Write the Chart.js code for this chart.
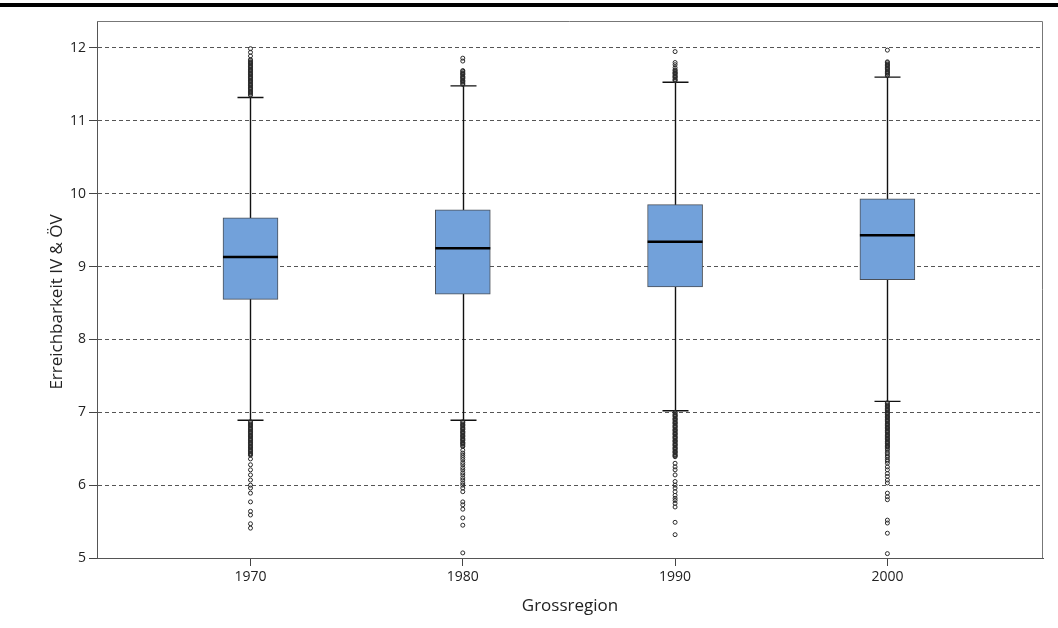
<!DOCTYPE html>
<html>
<head>
<meta charset="utf-8">
<title>Erreichbarkeit IV & ÖV nach Grossregion</title>
<script src="https://cdn.jsdelivr.net/npm/chart.js@4/dist/chart.umd.min.js"></script>
<style>
  body { margin: 0; background: #fff; }
  #wrap { position: relative; width: 1058px; height: 628px; }
  #topRule { position: absolute; left: 0; top: 3px; width: 1058px; height: 4px; background: #000; }
</style>
</head>
<body>
<div id="wrap">
  <div id="topRule"></div>
  <canvas id="boxChart" width="1058" height="628"></canvas>
</div>
<script>
'use strict';

// Box statistics per year
let years = [1970, 1980, 1990, 2000];
let lowerWhisker = [6.89, 6.89, 7.02, 7.15];
let q1 = [8.55, 8.62, 8.72, 8.82];
let median = [9.13, 9.25, 9.34, 9.43];
let q3 = [9.67, 9.78, 9.85, 9.93];
let upperWhisker = [11.32, 11.48, 11.53, 11.60];
let yTicks = [5, 6, 7, 8, 9, 10, 11, 12];
let yTitle = 'Erreichbarkeit IV & ÖV';

// Outliers per year (above and below the whiskers)
let out1970 = [
  11.99, 11.94, 11.89,
  11.84, 11.83, 11.81, 11.80, 11.79, 11.78, 11.76, 11.75, 11.74, 11.73, 11.71, 11.70,
  11.69, 11.68, 11.66, 11.65, 11.64, 11.63, 11.61, 11.60, 11.59, 11.58, 11.56, 11.55,
  11.54, 11.53, 11.51, 11.50, 11.49, 11.48, 11.46, 11.45, 11.44, 11.43, 11.41, 11.40,
  11.39, 11.38, 11.36, 11.35,
  6.87, 6.86, 6.84, 6.83, 6.82, 6.81, 6.79, 6.78, 6.77, 6.76, 6.74, 6.73, 6.72, 6.71,
  6.69, 6.68, 6.67, 6.66, 6.64, 6.63, 6.62, 6.61, 6.59, 6.58, 6.57, 6.56, 6.54, 6.53,
  6.52, 6.51, 6.49, 6.48, 6.47, 6.46, 6.44, 6.43, 6.42, 6.41,
  6.36, 6.28, 6.21, 6.14, 6.07, 6.00, 5.96, 5.89, 5.77, 5.64, 5.59, 5.47, 5.41
];
let out1980 = [
  11.86, 11.82,
  11.69, 11.68, 11.66, 11.65, 11.64, 11.63, 11.61, 11.60, 11.59, 11.58, 11.56, 11.55,
  11.54, 11.53, 11.51, 11.50,
  6.87, 6.86, 6.84, 6.83, 6.82, 6.81, 6.79, 6.78, 6.77, 6.76, 6.74, 6.73, 6.72, 6.71,
  6.69, 6.68, 6.67, 6.66, 6.64, 6.63, 6.62, 6.61, 6.59, 6.58, 6.57, 6.56, 6.54, 6.53,
  6.48, 6.44, 6.41, 6.38, 6.35, 6.31, 6.28, 6.24, 6.21, 6.17, 6.14, 6.10, 6.07, 6.03,
  6.00, 5.96, 5.91, 5.77, 5.73, 5.67, 5.55, 5.45, 5.07
];
let out1990 = [
  11.95, 11.80, 11.77, 11.73,
  11.70, 11.69, 11.67, 11.66, 11.65, 11.64, 11.62, 11.61, 11.60, 11.59, 11.57, 11.56,
  11.55,
  7.00, 6.99, 6.97, 6.96, 6.95, 6.94, 6.92, 6.91, 6.90, 6.89, 6.87, 6.86, 6.85, 6.84,
  6.82, 6.81, 6.80, 6.79, 6.77, 6.76, 6.75, 6.74, 6.72, 6.71, 6.70, 6.69, 6.67, 6.66,
  6.65, 6.64, 6.62, 6.61, 6.60, 6.59, 6.57, 6.56, 6.55, 6.54, 6.52, 6.51, 6.50, 6.49,
  6.47, 6.46, 6.45, 6.44, 6.42, 6.41, 6.40, 6.39,
  6.30, 6.25, 6.21, 6.14, 6.05, 6.00, 5.96, 5.91, 5.86, 5.82, 5.79, 5.75, 5.70, 5.49,
  5.32
];
let out2000 = [
  11.97,
  11.81, 11.80, 11.78, 11.77, 11.76, 11.75, 11.73, 11.72, 11.71, 11.70, 11.68, 11.67,
  11.66, 11.65, 11.63, 11.62,
  7.13, 7.12, 7.10, 7.09, 7.08, 7.07, 7.05, 7.04, 7.03, 7.02, 7.00, 6.99, 6.98, 6.97,
  6.95, 6.94, 6.93, 6.92, 6.90, 6.89, 6.88, 6.87, 6.85, 6.84, 6.83, 6.82, 6.80, 6.79,
  6.78, 6.77, 6.75, 6.74, 6.73, 6.72, 6.70, 6.69, 6.68, 6.67, 6.65, 6.64, 6.63, 6.62,
  6.60, 6.59, 6.58, 6.57, 6.55, 6.54, 6.53, 6.52, 6.50,
  6.48, 6.45, 6.43, 6.40, 6.38, 6.35, 6.33, 6.30,
  6.25, 6.21, 6.16, 6.12, 6.07, 6.03, 5.89, 5.84, 5.80, 5.52, 5.48, 5.34, 5.06
];
let allOutliers = [out1970, out1980, out1990, out2000];

// build chart data
let boxData = [];
let outlierPoints = [];
for (let i = 0; i < years.length; i++) {
  boxData.push({ x: years[i], y: [q1[i], q3[i]] });
  allOutliers[i].forEach(v => outlierPoints.push({ x: years[i], y: v }));
}

const BOX_WIDTH = 55;
const CAP_WIDTH = 26;

// whiskers behind the boxes, median lines, plot frame and y title on top
const boxPlotLines = {
  id: 'boxPlotLines',
  beforeDatasetsDraw(chart) {
    let ctx = chart.ctx;
    let xs = chart.scales.x;
    let ys = chart.scales.y;
    ctx.save();
    ctx.strokeStyle = '#111';
    ctx.lineWidth = 1.4;
    for (let i = 0; i < years.length; i++) {
      let x = Math.round(xs.getPixelForValue(years[i])) + 0.5;
      let top = ys.getPixelForValue(upperWhisker[i]);
      let bottom = ys.getPixelForValue(lowerWhisker[i]);
      ctx.beginPath();
      ctx.moveTo(x, top);
      ctx.lineTo(x, bottom);
      ctx.moveTo(x - CAP_WIDTH / 2, top);
      ctx.lineTo(x + CAP_WIDTH / 2, top);
      ctx.moveTo(x - CAP_WIDTH / 2, bottom);
      ctx.lineTo(x + CAP_WIDTH / 2, bottom);
      ctx.stroke();
    }
    ctx.restore();
  },
  afterDatasetsDraw(chart) {
    let ctx = chart.ctx;
    let xs = chart.scales.x;
    let ys = chart.scales.y;
    ctx.save();
    ctx.strokeStyle = '#000';
    ctx.lineWidth = 2.5;
    for (let i = 0; i < years.length; i++) {
      let x = xs.getPixelForValue(years[i]);
      let y = ys.getPixelForValue(median[i]);
      ctx.beginPath();
      ctx.moveTo(x - BOX_WIDTH / 2, y);
      ctx.lineTo(x + BOX_WIDTH / 2, y);
      ctx.stroke();
    }
    let a = chart.chartArea;
    ctx.strokeStyle = '#777';
    ctx.lineWidth = 1;
    ctx.beginPath();
    ctx.moveTo(a.left, a.top + 0.5);
    ctx.lineTo(a.right - 0.5, a.top + 0.5);
    ctx.lineTo(a.right - 0.5, a.bottom);
    ctx.stroke();

    // rotated y axis title, a bit below the middle of the axis
    ctx.translate(57, 302);
    ctx.rotate(-Math.PI / 2);
    ctx.fillStyle = '#222';
    ctx.font = "17px 'Open Sans', sans-serif";
    ctx.textAlign = 'center';
    ctx.textBaseline = 'middle';
    ctx.fillText(yTitle, 0, 0);
    ctx.restore();
  }
};

Chart.defaults.font.family = "'Open Sans', sans-serif";
Chart.defaults.font.size = 14;
Chart.defaults.color = '#222';

let ctx = document.getElementById('boxChart').getContext('2d');
let boxChart = new Chart(ctx, { // eslint-disable-line
  type: 'bar',
  data: {
    datasets: [
      {
        type: 'bar',
        data: boxData,
        backgroundColor: '#72a1da',
        borderColor: '#4a4f57',
        borderWidth: 1,
        borderSkipped: false,
        barThickness: BOX_WIDTH,
        grouped: false,
        order: 2
      },
      {
        type: 'scatter',
        data: outlierPoints,
        pointStyle: 'circle',
        pointRadius: 2,
        pointBorderWidth: 1,
        pointBorderColor: '#2a2a2a',
        pointBackgroundColor: 'rgba(255,255,255,0)',
        order: 1
      }
    ]
  },
  options: {
    responsive: false,
    animation: false,
    layout: { padding: { top: 21, right: 15, left: 0, bottom: 0 } },
    plugins: {
      legend: { display: false },
      tooltip: { enabled: false }
    },
    scales: {
      x: {
        type: 'linear',
        min: 1962.77,
        max: 2007.33,
        offset: false,
        afterBuildTicks(scale) {
          scale.ticks = years.map(v => ({ value: v }));
        },
        afterFit(scale) {
          scale.height = 70;
        },
        ticks: {
          padding: 3,
          callback: v => String(v)
        },
        grid: {
          offset: false,
          drawOnChartArea: false,
          drawTicks: true,
          tickLength: 8,
          tickColor: '#444'
        },
        border: { display: true, color: '#555', width: 1 },
        title: {
          display: true,
          text: 'Grossregion',
          font: { size: 17 },
          color: '#222',
          padding: { top: 0, bottom: 12 }
        }
      },
      y: {
        min: 5,
        max: 12.37,
        afterBuildTicks(scale) {
          scale.ticks = yTicks.map(v => ({ value: v }));
        },
        afterFit(scale) {
          scale.width = 97;
        },
        ticks: { padding: 3 },
        grid: {
          color: '#555',
          lineWidth: 1,
          tickBorderDash: [],
          tickColor: '#444',
          tickLength: 8
        },
        border: { display: true, color: '#555', width: 1, dash: [4, 3] }
      }
    }
  },
  plugins: [boxPlotLines]
});
</script>
</body>
</html>
